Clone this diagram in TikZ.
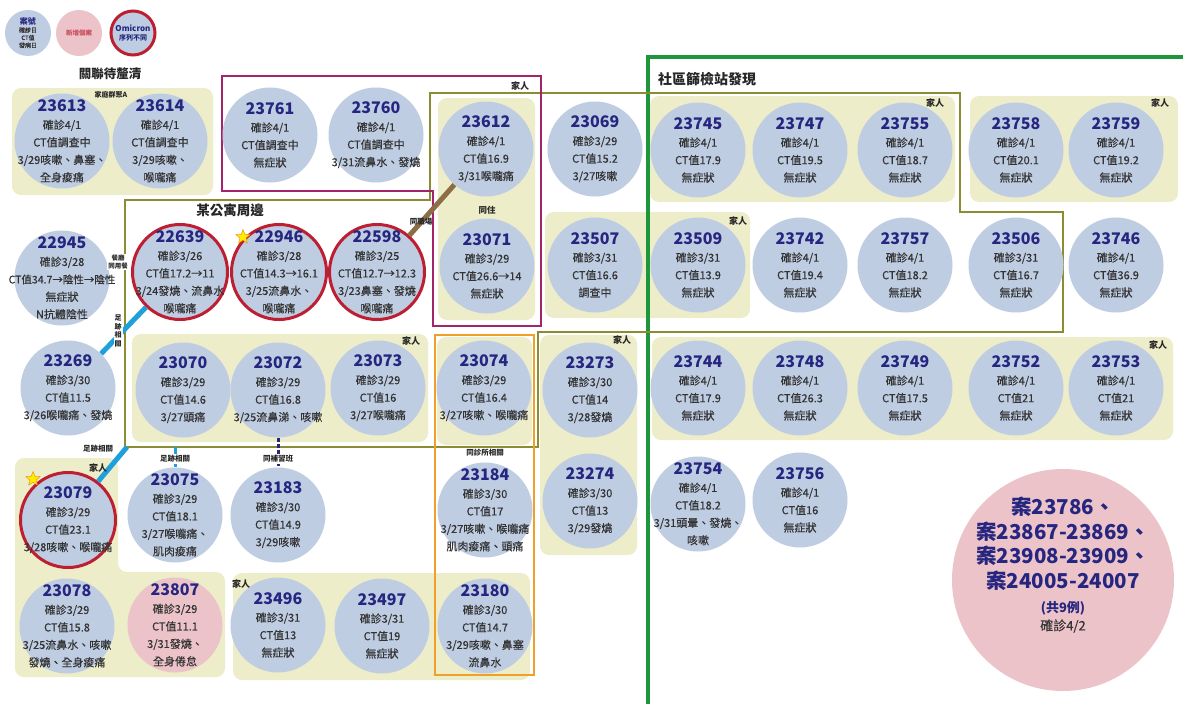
\documentclass[tikz,border=0pt]{standalone}
\usepackage{fontspec}
\setmainfont{Noto Sans CJK TC}
\newfontfamily\medf{Noto Sans CJK TC}[FakeBold=0.3]
\usetikzlibrary{shapes.geometric}
\definecolor{cblue}{HTML}{BFCDE3}
\definecolor{cpink}{HTML}{EBC3C8}
\definecolor{gbg}{HTML}{EEEDC9}
\definecolor{cred}{HTML}{BE1E32}
\definecolor{cnum}{HTML}{262680}
\definecolor{ctxt}{HTML}{333333}
\definecolor{cmag}{HTML}{A3246A}
\definecolor{colive}{HTML}{8C8C32}
\definecolor{corange}{HTML}{F0A028}
\definecolor{cgreen}{HTML}{1E963C}
\definecolor{ccyan}{HTML}{1EA0DC}
\definecolor{cbrown}{HTML}{8C6E46}
\newcommand{\numf}{\rmfamily\bfseries\fontsize{16}{17.5}\selectfont\color{cnum}}
\newcommand{\casenode}[4][]{%
  \node[casec,#1] (c#2) at (#3) {};
  \node[ctext] (t#2) at (c#2) {{\numf #2}\\#4};
}
\tikzset{
  casec/.style={circle,fill=cblue,minimum size=95pt,inner sep=0pt},
  omi/.style={draw=cred,line width=3pt},
  ctext/.style={align=center,text=ctxt,font=\medf\fontsize{11}{17.5}\selectfont,inner sep=0pt},
  grp/.style={fill=gbg,rounded corners=9pt},
  famtag/.style={font=\bfseries\fontsize{9}{10}\selectfont,text=black!85,inner sep=1pt},
  lbl/.style={font=\bfseries\fontsize{7.5}{9}\selectfont,text=black!85,inner sep=1pt},
  heading/.style={font=\bfseries\fontsize{13.5}{15}\selectfont,text=black!85},
  starn/.style={star,star points=5,star point ratio=2.3,fill=yellow!95!orange,draw=orange!80!brown,minimum size=15pt,inner sep=0pt},
  magbox/.style={draw=cmag,line width=2.8pt},
  olbox/.style={draw=colive,line width=2.4pt},
  orbox/.style={draw=corange,line width=2.8pt},
  grnline/.style={draw=cgreen,line width=4.5pt},
  footl/.style={draw=ccyan,line width=5pt},
}
\begin{document}
\begin{tikzpicture}[x=1pt,y=-1pt]
\useasboundingbox (0,0) rectangle (1183,704);
\fill[white] (0,0) rectangle (1183,704);
% group backgrounds
\fill[grp] (12,88) rectangle (213,195);
\fill[grp] (438,98) rectangle (535,320);
\fill[grp] (545,212) rectangle (750,318);
\fill[grp] (650,96) rectangle (955,202);
\fill[grp] (970,96) rectangle (1178,202);
\fill[grp] (132,334) rectangle (428,442);
\fill[grp] (437,337) rectangle (532,445);
\fill[grp] (540,335) rectangle (637,555);
\fill[grp] (652,337) rectangle (1173,440);
\fill[grp] (15,458) -- (118,458) -- (118,572) -- (225,572) -- (225,677) -- (15,677) -- cycle;
\fill[grp] (233,573) rectangle (530,680);
% outline boxes
\draw[grnline] (648,704) -- (648,57) -- (1183,57);
\draw[olbox] (125,200) -- (430,200) -- (430,93) -- (960,93) -- (960,212) -- (1063,212) -- (1063,332) -- (538,332) -- (538,447) -- (125,447) -- cycle;
\draw[magbox] (222,76) -- (541,76) -- (541,326) -- (433,326) -- (433,191) -- (222,191) -- cycle;
\draw[orbox] (435,335) rectangle (534,675);
% legend
\node[casec,minimum size=46pt] (l1) at (28,33) {};
\node[align=center,inner sep=0pt,font=\medf\fontsize{6}{7.6}\selectfont,text=ctxt] (lt1) at (l1) {{\rmfamily\bfseries\fontsize{8}{8}\selectfont\color{cnum}案號}\\確診日\\CT值\\發病日};
\node[casec,fill=cpink,minimum size=46pt] (l2) at (79,33) {};
\node[inner sep=0pt,font=\bfseries\fontsize{6.5}{8}\selectfont,text=cred!80] (lt2) at (l2) {新增個案};
\node[casec,omi,minimum size=44pt] (l3) at (133,33) {};
\node[align=center,inner sep=0pt,font=\bfseries\fontsize{8}{9.5}\selectfont,text=cnum] (lt3) at (l3) {Omicron\\{\fontsize{7}{9}\selectfont 序列不同}};
% headings
\node[heading,font=\bfseries\fontsize{12.5}{14}\selectfont] (h1) at (110,74) {關聯待釐清};
\node[heading] (h2) at (230,210) {某公寓周邊};
\node[heading,font=\bfseries\fontsize{14}{16}\selectfont] (h3) at (707,79) {社區篩檢站發現};
\node[lbl,font=\bfseries\fontsize{7}{8}\selectfont] (g1) at (111,95) {家庭群聚A};
% cases row 1
\casenode{23613}{62,141}{確診4/1\\CT值調查中\\3/29咳嗽、鼻塞、\\全身痠痛}
\casenode{23614}{160,141}{確診4/1\\CT值調查中\\3/29咳嗽、\\喉嚨痛}
\casenode{23761}{270,135}{確診4/1\\CT值調查中\\無症狀}
\casenode{23760}{376,135}{確診4/1\\CT值調查中\\3/31流鼻水、發燒}
\casenode{23612}{486,149}{確診4/1\\CT值16.9\\3/31喉嚨痛}
\casenode{23069}{595,149}{確診3/29\\CT值15.2\\3/27咳嗽}
\casenode{23745}{698,150}{確診4/1\\CT值17.9\\無症狀}
\casenode{23747}{800,150}{確診4/1\\CT值19.5\\無症狀}
\casenode{23755}{905,150}{確診4/1\\CT值18.7\\無症狀}
\casenode{23758}{1016,150}{確診4/1\\CT值20.1\\無症狀}
\casenode{23759}{1116,150}{確診4/1\\CT值19.2\\無症狀}
% row 2
\casenode{22945}{62,278}{確診3/28\\{\fontsize{10.5}{17.5}\selectfont CT值34.7→陰性→陰性}\\無症狀\\N抗體陰性}
\casenode[omi]{22639}{180,272}{確診3/26\\CT值17.2→11\\3/24發燒、流鼻水\\喉嚨痛}
\casenode[omi]{22946}{279,272}{確診3/28\\CT值14.3→16.1\\3/25流鼻水、\\喉嚨痛}
\casenode[omi]{22598}{377,272}{確診3/25\\CT值12.7→12.3\\3/23鼻塞、發燒\\喉嚨痛}
\casenode{23071}{487,266}{確診3/29\\CT值26.6→14\\無症狀}
\casenode{23507}{595,265}{確診3/31\\CT值16.6\\調查中}
\casenode{23509}{698,265}{確診3/31\\CT值13.9\\無症狀}
\casenode{23742}{800,265}{確診4/1\\CT值19.4\\無症狀}
\casenode{23757}{905,265}{確診4/1\\CT值18.2\\無症狀}
\casenode{23506}{1016,265}{確診3/31\\CT值16.7\\無症狀}
\casenode{23746}{1116,265}{確診4/1\\CT值36.9\\無症狀}
% row 3
\casenode{23269}{68,388}{確診3/30\\CT值11.5\\3/26喉嚨痛、發燒}
\casenode{23070}{183,390}{確診3/29\\CT值14.6\\3/27頭痛}
\casenode{23072}{278,390}{確診3/29\\CT值16.8\\3/25流鼻涕、咳嗽}
\casenode{23073}{378,388}{確診3/29\\CT值16\\3/27喉嚨痛}
\casenode{23074}{484,388}{確診3/29\\CT值16.4\\3/27咳嗽、喉嚨痛}
\casenode{23273}{590,390}{確診3/30\\CT值14\\3/28發燒}
\casenode{23744}{698,388}{確診4/1\\CT值17.9\\無症狀}
\casenode{23748}{800,388}{確診4/1\\CT值26.3\\無症狀}
\casenode{23749}{905,388}{確診4/1\\CT值17.5\\無症狀}
\casenode{23752}{1016,388}{確診4/1\\CT值21\\無症狀}
\casenode{23753}{1116,388}{確診4/1\\CT值21\\無症狀}
% row 4
\casenode[omi]{23079}{68,520}{確診3/29\\CT值23.1\\3/28咳嗽、喉嚨痛}
\casenode{23075}{175,515}{確診3/29\\CT值18.1\\3/27喉嚨痛、\\肌肉痠痛}
\casenode{23183}{278,515}{確診3/30\\CT值14.9\\3/29咳嗽}
\casenode{23184}{485,510}{確診3/30\\CT值17\\3/27咳嗽、喉嚨痛\\肌肉痠痛、頭痛}
\casenode{23274}{590,501}{確診3/30\\CT值13\\3/29發燒}
\casenode{23754}{698,504}{確診4/1\\CT值18.2\\3/31頭暈、發燒、\\咳嗽}
\casenode{23756}{800,500}{確診4/1\\CT值16\\無症狀}
% row 5
\casenode{23078}{67,626}{確診3/29\\CT值15.8\\3/25流鼻水、咳嗽\\發燒、全身痠痛}
\casenode[fill=cpink]{23807}{175,625}{確診3/29\\CT值11.1\\3/31發燒、\\全身倦怠}
\casenode{23496}{278,625}{確診3/31\\CT值13\\無症狀}
\casenode{23497}{382,626}{確診3/31\\CT值19\\無症狀}
\casenode{23180}{485,626}{確診3/30\\CT值14.7\\3/29咳嗽、鼻塞\\流鼻水}
% big pink
\node[casec,fill=cpink,minimum size=222pt] (cbig) at (1063,580) {};
\node[align=center,inner sep=0pt,font=\bfseries\fontsize{20.5}{24.5}\selectfont,text=cnum] (tbig) at (1063,565) {案23786、\\案23867-23869、\\案23908-23909、\\案24005-24007\\{\fontsize{13}{17}\selectfont (共9例)}\\[-7pt]{\mdseries\medf\fontsize{13}{17}\selectfont\color{ctxt}確診4/2}};
% connectors
\draw[draw=cbrown,line width=5pt] (c23612) -- (c22598);
\draw[footl] (c22639) -- (c23269);
\coordinate (k1) at (127,447);
\coordinate (k2) at (175,447);
\draw[footl] (k1) -- (c23079.52);
\draw[footl,line width=3pt] (k2) -- (c23075);
\draw[draw=cnum,line width=3pt,dash pattern=on 4pt off 2pt] (c23072) -- (c23183);
% stars
\node[starn] (st1) at (243,237) {};
\node[starn] (st2) at (33,479) {};
% labels
\node[lbl] (q1) at (421,222) {同職場};
\node[lbl,font=\bfseries\fontsize{8.5}{9}\selectfont] (q2) at (487,210) {同住};
\node[lbl,fill=white,align=center,font=\bfseries\fontsize{6.5}{8}\selectfont] (q3) at (118,262) {餐廳\\同用餐};
\node[lbl,fill=white,align=center,font=\bfseries\fontsize{7}{8.8}\selectfont] (q4) at (118,331) {足\\跡\\相\\關};
\node[lbl] (q5) at (98,449) {足跡相關};
\node[lbl,fill=white] (q6) at (175,459) {足跡相關};
\node[lbl,fill=white] (q7) at (278,459) {同補習班};
\node[lbl] (q8) at (485,453) {同診所相關};
% family tags
\node[famtag] (f1) at (520,86) {家人};
\node[famtag] (f2) at (935,103) {家人};
\node[famtag] (f3) at (1160,103) {家人};
\node[famtag] (f4) at (738,221) {家人};
\node[famtag] (f5) at (411,341) {家人};
\node[famtag] (f6) at (622,340) {家人};
\node[famtag] (f7) at (1158,345) {家人};
\node[famtag] (f8) at (98,468) {家人};
\node[famtag] (f9) at (241,584) {家人};
\end{tikzpicture}
\end{document}
